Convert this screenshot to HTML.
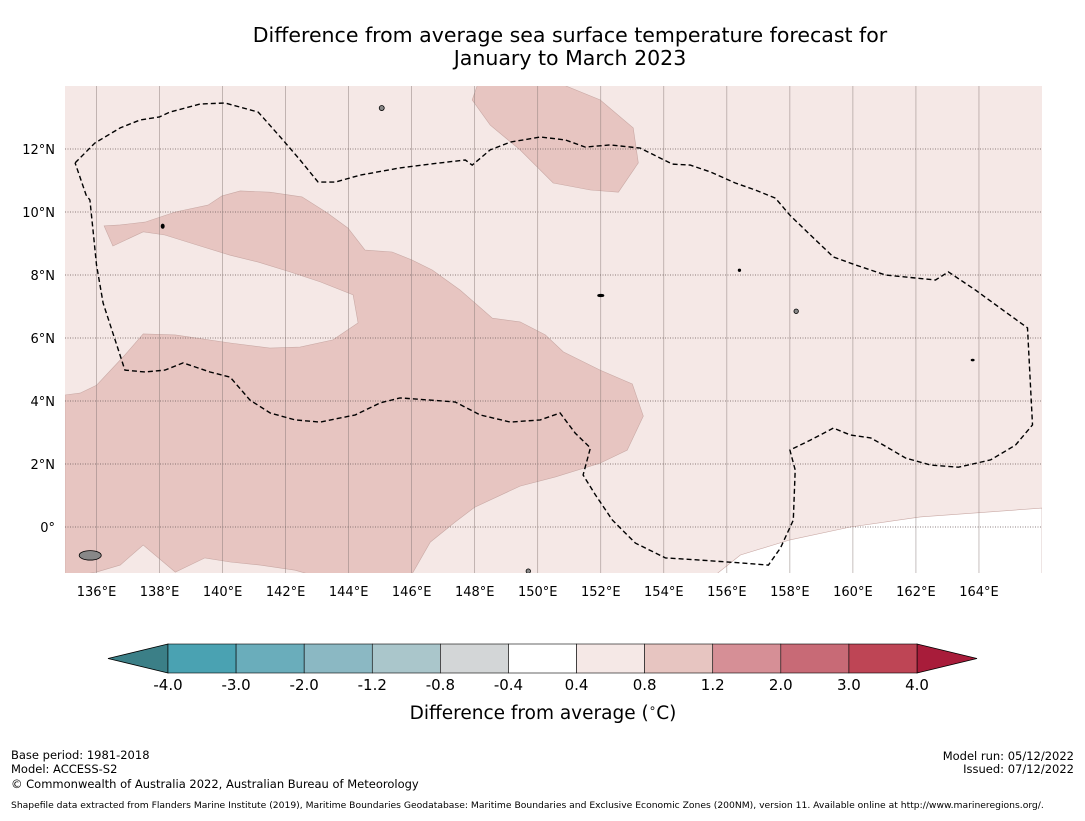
<!DOCTYPE html>
<html><head><meta charset="utf-8"><style>
body{margin:0;background:#fff;width:1085px;height:816px;overflow:hidden;font-family:"Liberation Sans","DejaVu Sans",sans-serif}
svg text{font-family:"DejaVu Sans","Liberation Sans",sans-serif}
</style></head><body>
<svg id="chart" width="1085" height="816" xmlns="http://www.w3.org/2000/svg">
<text x="570" y="42" text-anchor="middle" font-size="20.5">Difference from average sea surface temperature forecast for</text>
<text x="570" y="65" text-anchor="middle" font-size="20.5">January to March 2023</text>
<g id="map"></g>
<g id="cbar"></g>
<text x="543" y="719" text-anchor="middle" font-size="18.5">Difference from average (<tspan font-size="12" dy="-7">∘</tspan><tspan dy="7">C)</tspan></text>
<g font-size="11.5">
<text x="11" y="759">Base period: 1981-2018</text>
<text x="11" y="773">Model: ACCESS-S2</text>
<text x="11" y="788">© Commonwealth of Australia 2022, Australian Bureau of Meteorology</text>
<text x="1074" y="760" text-anchor="end">Model run: 05/12/2022</text>
<text x="1074" y="773" text-anchor="end">Issued: 07/12/2022</text>
<text x="11" y="808" font-size="9.2">Shapefile data extracted from Flanders Marine Institute (2019), Maritime Boundaries Geodatabase: Maritime Boundaries and Exclusive Economic Zones (200NM), version 11. Available online at http://www.marineregions.org/.</text>
</g>
</svg>
<script>
const lonTicks=[136,138,140,142,144,146,148,150,152,154,156,158,160,162,164];
const latTicks=[0,2,4,6,8,10,12];
const latLabels=["0°","2°N","4°N","6°N","8°N","10°N","12°N"];
const cbBounds=["-4.0","-3.0","-2.0","-1.2","-0.8","-0.4","0.4","0.8","1.2","2.0","3.0","4.0"];
const cbColors=["#4aa2b2","#6aadbb","#8bb8c3","#aac6cb","#d3d6d7","#ffffff","#f5e8e6","#e7c5c1","#d68f96","#c86a76","#be4555"];
const warmRegion=[[135,4.19],[135.48,4.25],[136,4.5],[136.9,5.46],[137.48,6.13],[138.5,6.1],[140.24,5.84],[141.5,5.68],[142.46,5.71],[143.5,5.94],[144.3,6.48],[144.14,7.37],[143.1,7.78],[142.14,8.1],[141.13,8.41],[140.24,8.63],[139.29,8.92],[138.17,9.27],[137.48,9.37],[136.52,8.92],[136.24,9.56],[136.75,9.59],[137.54,9.68],[138.5,10],[139.54,10.22],[139.98,10.51],[140.56,10.67],[141.5,10.63],[142.52,10.48],[143.32,9.97],[143.98,9.49],[144.52,8.79],[145.38,8.73],[146,8.48],[146.65,8.16],[147.54,7.52],[148.56,6.63],[149.44,6.51],[150.24,6.1],[150.81,5.56],[151.98,4.98],[153,4.54],[153.35,3.52],[152.84,2.44],[151.98,2.03],[150.56,1.59],[149.44,1.3],[148,0.63],[147.38,0.16],[146.59,-0.48],[145.95,-1.6],[143.1,-1.6],[142.3,-1.37],[141.19,-1.21],[140.24,-1.11],[139.44,-0.98],[138.5,-1.43],[137.48,-0.57],[136.75,-1.21],[136,-1.43],[135,-1.6]];
const warmRegion2=[[148.11,14.1],[147.92,13.56],[148.49,12.76],[149.44,11.97],[150.49,10.92],[151.67,10.7],[152.56,10.63],[153.19,11.56],[153.03,12.67],[151.98,13.56],[150.65,14.1]];
const neutralRegion=[[155.54,-1.6],[156.43,-0.89],[158,-0.41],[159.92,0],[162.14,0.32],[166,0.6],[166,-1.6]];
const eez=[[135.32,11.56],[135.95,12.19],[136.75,12.67],[137.38,12.92],[138,13.02],[138.33,13.17],[139.29,13.43],[140.08,13.46],[141.13,13.17],[141.83,12.38],[142.46,11.65],[143.03,10.95],[143.57,10.95],[144.37,11.17],[145.63,11.4],[146.9,11.56],[147.7,11.65],[147.92,11.49],[148.49,11.97],[149.13,12.22],[150.08,12.38],[150.87,12.29],[151.51,12.06],[152.3,12.13],[153.25,12.03],[154.27,11.52],[154.84,11.49],[155.48,11.27],[156.27,10.92],[156.9,10.7],[157.54,10.44],[158,9.9],[158.65,9.27],[159.38,8.57],[160.08,8.32],[161.03,8],[162.62,7.84],[163.03,8.1],[163.89,7.52],[164.84,6.83],[165.54,6.32],[165.7,3.24],[165.16,2.6],[164.37,2.13],[163.35,1.9],[162.46,1.97],[161.67,2.19],[160.97,2.6],[160.56,2.83],[159.92,2.92],[159.38,3.14],[158.65,2.76],[158,2.44],[158.17,1.81],[158.11,0.22],[157.7,-0.67],[157.32,-1.21],[156.43,-1.14],[155.16,-1.05],[154.05,-0.98],[153.1,-0.51],[152.37,0.22],[151.83,1.02],[151.44,1.65],[151.67,2.51],[151.19,2.98],[150.71,3.62],[150.08,3.4],[149.13,3.33],[148.17,3.56],[147.38,3.97],[146.59,4.03],[145.63,4.1],[145,3.94],[144.21,3.56],[143.1,3.33],[142.3,3.4],[141.51,3.62],[140.87,4.03],[140.24,4.76],[139.6,4.92],[138.75,5.21],[138.17,4.98],[137.54,4.92],[136.9,4.98],[136.59,5.94],[136.21,7.11],[136,8.32],[135.89,9.43],[135.79,10.38],[135.67,10.54],[135.32,11.56]];
const islands=[[135.8,-0.9,0.35,0.15,"#888"],[145.05,13.3,0.08,0.08,"#888"],[158.2,6.85,0.07,0.07,"#888"],[138.1,9.55,0.05,0.07,"#000"],[152.0,7.35,0.1,0.04,"#000"],[156.4,8.15,0.04,0.04,"#000"],[163.8,5.3,0.05,0.03,"#000"],[149.7,-1.4,0.07,0.07,"#888"]];

const X0=65,X1=1042,Y0=86,Y1=573,LON0=135,LON1=166,LAT0=-1.46,LAT1=14;
const px=l=>X0+(l-LON0)/(LON1-LON0)*(X1-X0);
const py=l=>Y1-(l-LAT0)/(LAT1-LAT0)*(Y1-Y0);
const NS="http://www.w3.org/2000/svg";
function mk(t,a,p){const e=document.createElementNS(NS,t);for(const k in a)e.setAttribute(k,a[k]);p.appendChild(e);return e;}
const map=document.getElementById('map');
const defs=mk('defs',{},map);
const cp=mk('clipPath',{id:'clip'},defs);
mk('rect',{x:X0,y:Y0,width:X1-X0,height:Y1-Y0},cp);
const g=mk('g',{'clip-path':'url(#clip)'},map);
const bg=mk('rect',{x:X0,y:Y0,width:X1-X0,height:Y1-Y0,fill:'#f5e8e6'},g);


const pts=a=>a.map(p=>px(p[0]).toFixed(1)+','+py(p[1]).toFixed(1)).join(' ');
[[warmRegion,'#e7c5c1','warm-anomaly-region'],[warmRegion2,'#e7c5c1','warm-anomaly-region-north'],[neutralRegion,'#ffffff','neutral-region']].forEach(r=>{
 const e=mk('polygon',{points:pts(r[0]),fill:r[1],stroke:'#c9a9a5','stroke-width':0.6},g);
 
 
});
lonTicks.forEach(l=>{
 const e=mk('line',{x1:px(l),x2:px(l),y1:Y0,y2:Y1,stroke:'#8a7a78','stroke-width':0.6,'stroke-opacity':0.8},g);
 
 
});
latTicks.forEach(l=>{
 const e=mk('line',{x1:X0,x2:X1,y1:py(l),y2:py(l),stroke:'#6a5a58','stroke-width':0.7,'stroke-dasharray':'1,1.5'},g);
 
 
});
islands.forEach(i=>{
 const e=mk('ellipse',{cx:px(i[0]),cy:py(i[1]),rx:i[2]*31.5,ry:i[3]*31.5,fill:i[4],stroke:'#000','stroke-width':0.8},g);
 
 
});
const ez=mk('polyline',{points:pts(eez),fill:'none',stroke:'#000','stroke-width':1.4,'stroke-dasharray':'5,3'},g);


lonTicks.forEach(l=>{
 const t=mk('text',{x:px(l),y:596,'text-anchor':'middle','font-size':13},map);
 t.textContent=l+'°E';
 
 
});
latTicks.forEach((l,i)=>{
 const t=mk('text',{x:55,y:py(l)+5,'text-anchor':'end','font-size':13},map);
 t.textContent=latLabels[i];
 
 
});
const cb=document.getElementById('cbar');
const CX0=168,CX1=917,CY=644,CH=29,n=cbColors.length,sw=(CX1-CX0)/n;
const lt=mk('polygon',{points:`${CX0},${CY} ${CX0},${CY+CH} 108,${CY+CH/2}`,fill:'#3b7f87',stroke:'#000','stroke-width':0.8},cb);


const rt=mk('polygon',{points:`${CX1},${CY} ${CX1},${CY+CH} 977,${CY+CH/2}`,fill:'#a81c3a',stroke:'#000','stroke-width':0.8},cb);


cbColors.forEach((c,i)=>{
 const r=mk('rect',{x:CX0+i*sw,y:CY,width:sw,height:CH,fill:c,stroke:'#000','stroke-width':0.6},cb);
 
 
});
cbBounds.forEach((b,i)=>{
 const t=mk('text',{x:CX0+i*sw,y:690,'text-anchor':'middle','font-size':15},cb);
 t.textContent=b;
 
 
});
</script>
</body></html>
